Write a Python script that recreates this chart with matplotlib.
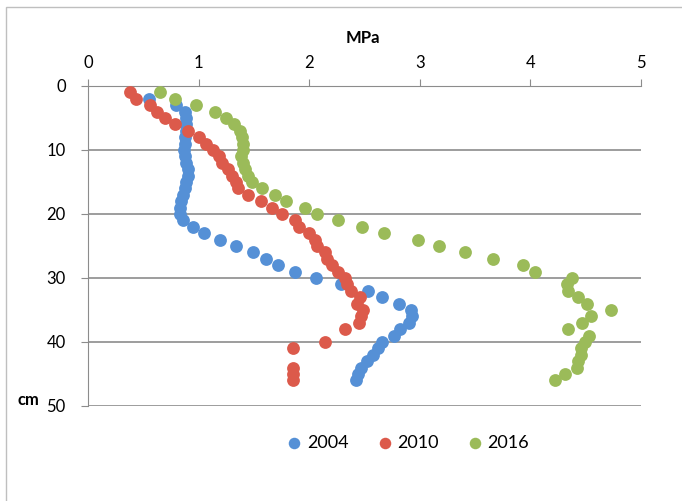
import matplotlib.pyplot as plt
from matplotlib.patches import Rectangle

# depth (cm) and penetration resistance (MPa) per year
depth_2004 = list(range(2, 47))
mpa_2004 = [0.55, 0.80, 0.88, 0.89, 0.89, 0.89, 0.88, 0.88, 0.87, 0.88,
            0.89, 0.90, 0.90, 0.89, 0.88, 0.86, 0.84, 0.83, 0.83, 0.86,
            0.95, 1.05, 1.19, 1.34, 1.49, 1.61, 1.72, 1.87, 2.06, 2.29,
            2.53, 2.66, 2.81, 2.92, 2.93, 2.90, 2.82, 2.77, 2.66, 2.62,
            2.58, 2.52, 2.47, 2.44, 2.42]

depth_2010 = list(range(1, 39)) + [40, 41, 44, 45, 46]
mpa_2010 = [0.38, 0.43, 0.56, 0.62, 0.70, 0.79, 0.90, 1.00, 1.07, 1.13,
            1.18, 1.21, 1.27, 1.30, 1.34, 1.36, 1.45, 1.56, 1.66, 1.75,
            1.87, 1.91, 2.00, 2.05, 2.07, 2.14, 2.16, 2.21, 2.26, 2.32,
            2.34, 2.38, 2.46, 2.43, 2.49, 2.47, 2.45, 2.32, 2.14, 1.85,
            1.85, 1.85, 1.85]

depth_2016 = list(range(1, 47))
mpa_2016 = [0.65, 0.79, 0.98, 1.15, 1.25, 1.32, 1.37, 1.39, 1.40, 1.40,
            1.38, 1.40, 1.42, 1.45, 1.48, 1.57, 1.69, 1.79, 1.96, 2.07,
            2.26, 2.48, 2.68, 2.98, 3.17, 3.41, 3.66, 3.93, 4.04, 4.38,
            4.33, 4.34, 4.43, 4.51, 4.73, 4.55, 4.47, 4.34, 4.53, 4.49,
            4.46, 4.46, 4.43, 4.42, 4.31, 4.22]

plt.rcParams['font.family'] = ['Lato', 'DejaVu Sans']

fig = plt.figure(figsize=(6.82, 5.01), dpi=100)
fig.patches.append(Rectangle((6 / 682, -0.01), 1.1, 1 - 7 / 501 + 0.01,
                             transform=fig.transFigure, fill=False,
                             edgecolor='#bfbfbf', linewidth=1))

ax = fig.add_axes([88 / 682, 1 - 406 / 501, (641 - 88) / 682, (406 - 86) / 501])

ax.scatter(mpa_2004, depth_2004, s=85, color='#5590D6', label='2004', zorder=3, linewidths=0)
ax.scatter(mpa_2010, depth_2010, s=85, color='#DC5A4B', label='2010', zorder=3, linewidths=0)
ax.scatter(mpa_2016, depth_2016, s=85, color='#9BBB59', label='2016', zorder=3, linewidths=0)

ax.set_xlim(0, 5)
ax.set_ylim(50, 0)
ax.set_xticks(range(0, 6))
ax.set_yticks(range(0, 51, 10))
ax.xaxis.tick_top()
ax.tick_params(axis='x', direction='out', length=5, color='#8c8c8c', labelsize=12, pad=6)
ax.tick_params(axis='y', direction='out', length=5, color='#8c8c8c', labelsize=12, pad=11)
ax.grid(axis='y', color='#8c8c8c', linewidth=1.2)
for s in ['right', 'bottom']:
    ax.spines[s].set_visible(False)
for s in ['top', 'left']:
    ax.spines[s].set_color('#8c8c8c')
ax.set_axisbelow(True)

fig.text(363 / 682, 1 - 38 / 501, 'MPa', ha='center', va='center', fontsize=12, fontweight='bold')
fig.text(28 / 682, 1 - 400 / 501, 'cm', ha='center', va='center', fontsize=12, fontweight='bold')

fig.legend(loc='center', bbox_to_anchor=(408 / 682, 1 - 443 / 501), ncol=3, frameon=False,
           fontsize=13, handlelength=0.8, handletextpad=0.3, columnspacing=1.6, markerscale=0.9)

fig.savefig('out.png', dpi=100)
